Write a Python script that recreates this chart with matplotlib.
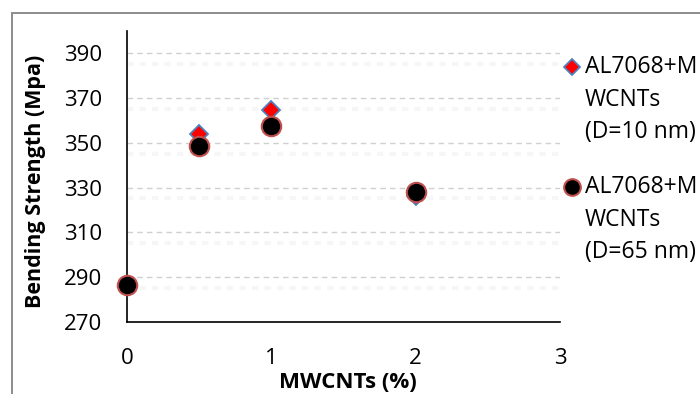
import matplotlib
matplotlib.use("Agg")
import matplotlib.pyplot as plt
from matplotlib.lines import Line2D
from matplotlib.patches import Rectangle

# ---- data ----
mwcnt = [0, 0.5, 1, 2]
d10_strength = [286, 354, 364.5, 326.5]
d65_strength = [286.5, 348.5, 357.5, 328]
series_labels = [["AL7068+M", "WCNTs", "(D=10 nm)"],
                 ["AL7068+M", "WCNTs", "(D=65 nm)"]]
x_ticks = [0, 1, 2, 3]
y_ticks = [270, 290, 310, 330, 350, 370, 390]
x_label = "MWCNTs (%)"
y_label = "Bending Strength (Mpa)"

FONT = "Open Sans"
W, H = 700, 394
fig = plt.figure(figsize=(7, 3.94), dpi=100)
ax = fig.add_axes([127 / W, 1 - 322 / H, (560 - 127) / W, (322 - 31) / H])

# outer chart border (cropped)
fig.patches.append(Rectangle((12 / W, -0.1), 1.2, 1 - 13 / H + 0.1,
                             transform=fig.transFigure, fill=False,
                             edgecolor="#8c8c8c", linewidth=1.4))

ax.set_xlim(0, 3)
ax.set_ylim(270, 400)

# gridlines
for yv in y_ticks[1:]:
    ax.axhline(yv, color="#d0d0d0", linestyle=(0, (4, 3)), linewidth=1.0, zorder=1)
    ax.axhline(yv - 4.8, color="#f6f6f6", linestyle=(0, (1.5, 1.5)), linewidth=3.0, zorder=0.5)

ax.plot(mwcnt, d10_strength, linestyle="none", marker="D", markersize=9.5,
        markerfacecolor="#ff0000", markeredgecolor="#4f81bd", markeredgewidth=1.3,
        zorder=3, clip_on=False)
ax.plot(mwcnt, d65_strength, linestyle="none", marker="o", markersize=14,
        markerfacecolor="#000000", markeredgecolor="#c0504d", markeredgewidth=1.5,
        zorder=4, clip_on=False)

for s in ["top", "right"]:
    ax.spines[s].set_visible(False)
for s in ["left", "bottom"]:
    ax.spines[s].set_color("black")
    ax.spines[s].set_linewidth(1.2)

ax.set_xticks(x_ticks)
ax.set_yticks(y_ticks)
ax.tick_params(axis="both", length=0, labelsize=16)
ax.tick_params(axis="x", pad=19)
ax.tick_params(axis="y", pad=18)
for lab in ax.get_xticklabels() + ax.get_yticklabels():
    lab.set_fontfamily(FONT)
    lab.set_color("#000000")

fig.text(36 / W, 1 - 181 / H, y_label, rotation=90, ha="center", va="center",
         fontsize=15.5, fontweight="bold", family=FONT)
fig.text(348 / W, 1 - 383 / H, x_label, ha="center", va="center",
         fontsize=16, fontweight="bold", family=FONT)

# legend
leg_marker_y = [67, 187]
line_gap = 32.5
styles = [dict(marker="D", markersize=8.5, markerfacecolor="#ff0000",
               markeredgecolor="#4f81bd", markeredgewidth=1.3),
          dict(marker="o", markersize=12, markerfacecolor="#000000",
               markeredgecolor="#c0504d", markeredgewidth=1.5)]
for ym, lines, st in zip(leg_marker_y, series_labels, styles):
    fig.add_artist(Line2D([572 / W], [1 - ym / H], transform=fig.transFigure,
                          linestyle="none", **st))
    for i, t in enumerate(lines):
        fig.text(585 / W, 1 - (ym + i * line_gap) / H, t, ha="left", va="center",
                 fontsize=16.5, family=FONT)

fig.savefig("out.png", dpi=100)
